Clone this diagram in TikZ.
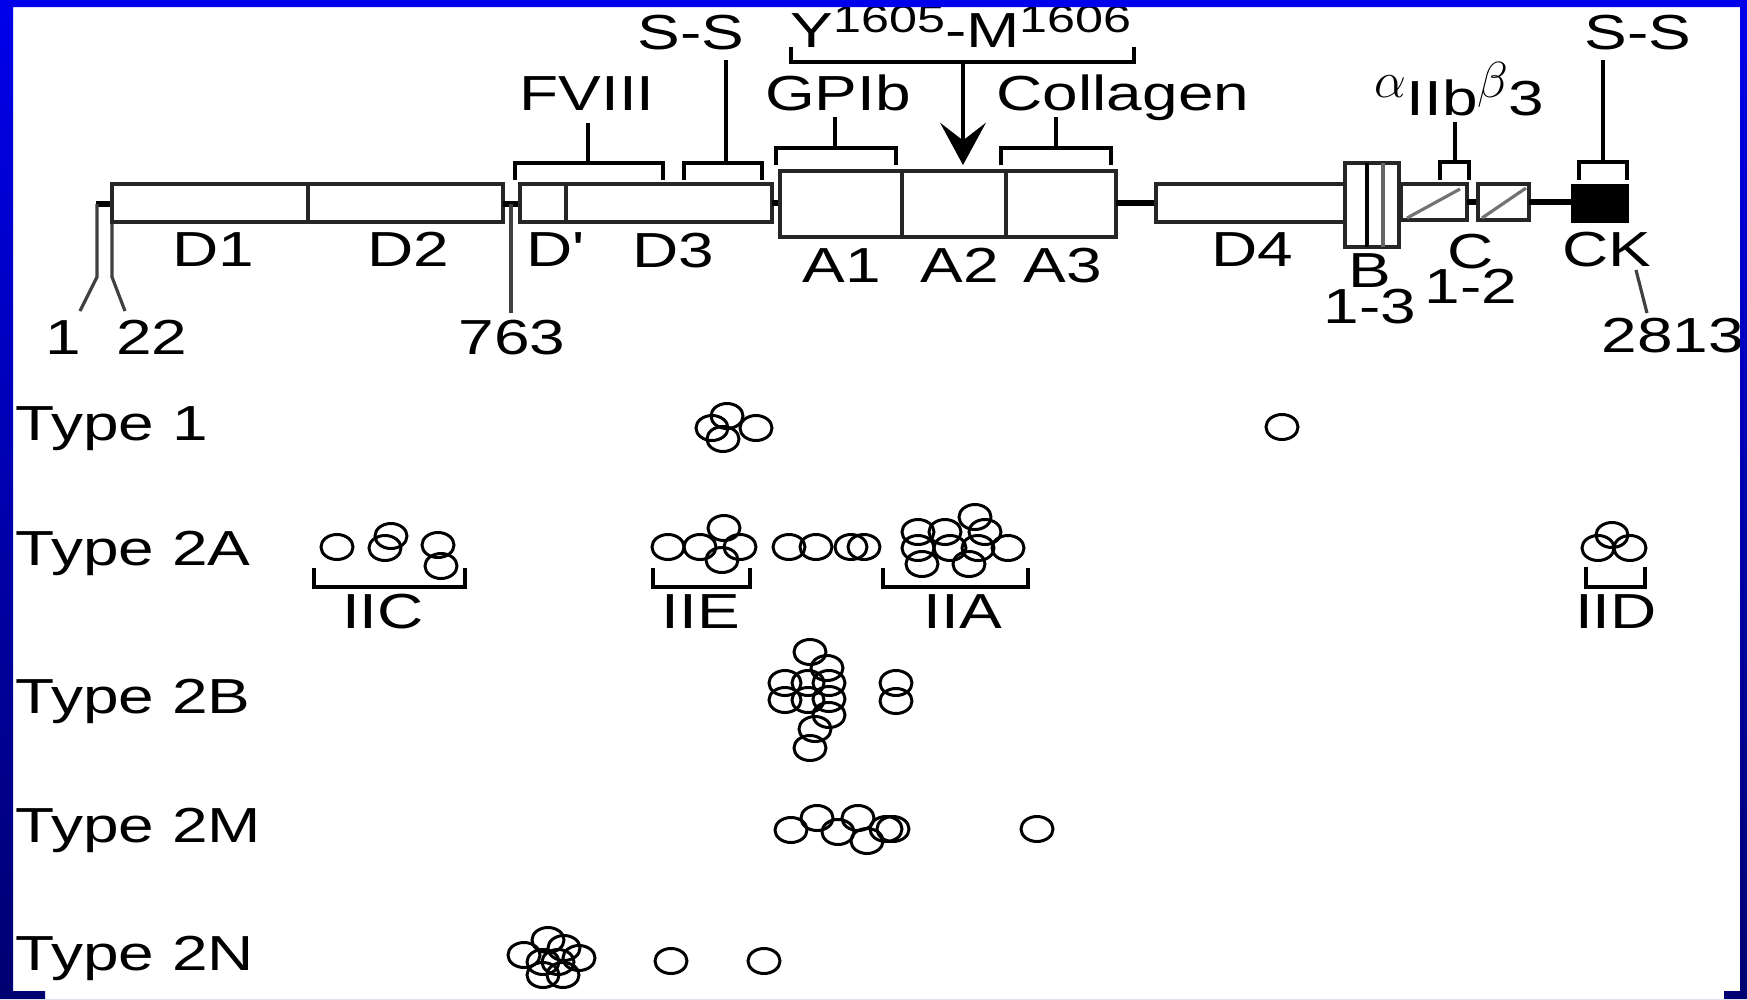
\documentclass[tikz,border=0pt]{standalone}
\usepackage{fontspec}
\setmainfont{Liberation Sans}[FakeStretch=1.3]
\usetikzlibrary{arrows.meta}
\definecolor{slideblue}{RGB}{0,0,235}
\definecolor{slidenavy}{RGB}{0,0,112}
\tikzset{
  lbl/.style={font=\fontsize{14}{16}\selectfont,inner sep=0pt,anchor=base},
  stack/.style={font=\fontsize{14}{10.1}\selectfont,inner sep=0pt,align=center,anchor=center},
  dom/.style={line width=1.2pt,black!85},
  lnk/.style={line width=1.6pt},
  brk/.style={line width=1.1pt},
  lead/.style={line width=0.9pt,black!75},
  mut/.style={line width=0.85pt},
}
\newcommand{\supsmall}[1]{\raisebox{4pt}{\fontsize{11}{11}\selectfont #1}}
\begin{document}
\begin{tikzpicture}[x=0.01cm,y=-0.01cm]
\useasboundingbox (0,0) rectangle (1747,999);
\fill[white] (0,0) rectangle (1747,999);
% domain map
\draw[lnk] (96,204) -- (112,204);
\draw[lead] (97,204) -- (97,277) -- (80,311);
\draw[lead] (112,222) -- (112,277) -- (125,311);
\draw[dom] (112,184) rectangle (503,222);
\draw[dom] (308,184) -- (308,222);
\draw[lnk] (503,204) -- (520,204);
\draw[lead] (511,204) -- (511,313);
\draw[dom] (520,184) rectangle (772,222);
\draw[dom] (566,184) -- (566,222);
\draw[lnk] (772,203) -- (780,203);
\draw[dom] (780,171) rectangle (1116,237);
\draw[dom] (902,171) -- (902,237);
\draw[dom] (1006,171) -- (1006,237);
\draw[lnk] (1116,203) -- (1156,203);
\draw[dom] (1156,184) rectangle (1345,222);
\draw[dom] (1345,163) rectangle (1399,247);
\draw[line width=1.4pt] (1367,163) -- (1367,247);
\draw[dom,black!60] (1383,163) -- (1383,247);
\draw[dom] (1401,184) rectangle (1467,220);
\draw[lead,black!55] (1407,218) -- (1460,189);
\draw[lnk] (1467,202) -- (1478,202);
\draw[dom] (1478,184) rectangle (1529,220);
\draw[lead,black!55] (1482,218) -- (1526,188);
\draw[lnk] (1529,202) -- (1571,202);
\fill (1571,184) rectangle (1629,223);
\draw[lead] (1636,270) -- (1647,313);
% domain names
\node[lbl] (lD1) at (213,266) {D1};
\node[lbl] (lD2) at (408,266) {D2};
\node[lbl] (lDp) at (554,266) {D\textquotesingle};
\node[lbl] (lD3) at (673,267) {D3};
\node[lbl] (lA1) at (842,282) {A1};
\node[lbl] (lA2) at (960,282) {A2};
\node[lbl] (lA3) at (1063,282) {A3};
\node[lbl] (lD4) at (1252,266) {D4};
\node[stack] (lB) at (1370,289) {B\\1-3};
\node[stack] (lC) at (1471,269) {C\\1-2};
\node[lbl] (lCK) at (1607,266) {CK};
\node[lbl] (l1) at (63,354) {1};
\node[lbl] (l22) at (152,354) {22};
\node[lbl] (l763) at (512,354) {763};
\node[lbl] (l2813) at (1673,352) {2813};
% binding sites
\draw[brk] (515,180) -- (515,163) -- (663,163) -- (663,180);
\draw[brk] (588,163) -- (588,123);
\node[lbl] (lfviii) at (587,110) {FVIII};
\draw[brk] (684,180) -- (684,163) -- (762,163) -- (762,180);
\draw[brk] (726,163) -- (726,60);
\node[lbl] (lssa) at (691,49) {S-S};
\draw[brk] (776,165) -- (776,148) -- (896,148) -- (896,165);
\draw[brk] (835,148) -- (835,117);
\node[lbl] (lgpib) at (838,110) {GPIb};
\draw[brk] (791,47) -- (791,62) -- (1134,62) -- (1134,47);
\draw[brk,-{Stealth[length=12pt,width=13pt,inset=5pt]}] (963,62) -- (963,165);
\node[lbl] (lym) at (961,47) {Y\supsmall{1605}-M\supsmall{1606}};
\draw[brk] (1001,165) -- (1001,148) -- (1111,148) -- (1111,165);
\draw[brk] (1056,148) -- (1056,117);
\node[lbl] (lcoll) at (1123,110) {Collagen};
\draw[brk] (1440,180) -- (1440,162) -- (1469,162) -- (1469,180);
\draw[brk] (1455,162) -- (1455,122);
\node[lbl,anchor=base west] (lint) at (1374,115) {\raisebox{5pt}{$\alpha$}IIb\raisebox{5pt}{$\beta$}3};
\draw[brk] (1579,180) -- (1579,162) -- (1627,162) -- (1627,180);
\draw[brk] (1603,162) -- (1603,60);
\node[lbl] (lssb) at (1638,49) {S-S};
% vwd types
\node[lbl,anchor=base west] (t1) at (15,440) {Type 1};
\node[lbl,anchor=base west] (t2a) at (15,565) {Type 2A};
\node[lbl,anchor=base west] (t2b) at (15,713) {Type 2B};
\node[lbl,anchor=base west] (t2m) at (15,842) {Type 2M};
\node[lbl,anchor=base west] (t2n) at (15,970) {Type 2N};
% mutations
\foreach \cx/\cy in {727/416,712/428,756/428,723/439,1282/427,
    337/547,385/548,391/536,438/545,441/566,
    668/547,700/547,724/528,740/547,722/560,
    789/547,816/547,851/547,864/547,
    975/517,918/532,945/532,985/532,918/548,950/548,978/548,1008/548,922/564,969/564,
    1612/535,1598/548,1630/548,
    810/652,827/668,785/683,808/683,829/683,785/700,808/700,829/699,829/715,815/729,810/748,896/683,896/701,
    791/830,817/818,838/832,858/818,867/841,886/829,893/829,1037/829,
    548/940,564/948,524/955,543/962,558/962,579/958,543/975,563/975,671/961,764/961}
  \draw[mut] (\cx,\cy) ellipse [x radius=0.16cm,y radius=0.125cm];
\draw[brk] (314,568) -- (314,587) -- (465,587) -- (465,568);
\node[lbl] (liic) at (383,628) {IIC};
\draw[brk] (653,568) -- (653,587) -- (750,587) -- (750,568);
\node[lbl] (liie) at (701,628) {IIE};
\draw[brk] (883,568) -- (883,587) -- (1028,587) -- (1028,568);
\node[lbl] (liia) at (963,628) {IIA};
\draw[brk] (1586,567) -- (1586,587) -- (1645,587) -- (1645,567);
\node[lbl] (liid) at (1616,628) {IID};
% slide frame
\shade[top color=slideblue,bottom color=slidenavy,even odd rule]
  (0,0) rectangle (1747,999)
  (13,7) -- (1740,7) -- (1740,991) -- (1724,991) -- (1724,999) -- (45,999) -- (45,991) -- (13,991) -- cycle;
\end{tikzpicture}
\end{document}
